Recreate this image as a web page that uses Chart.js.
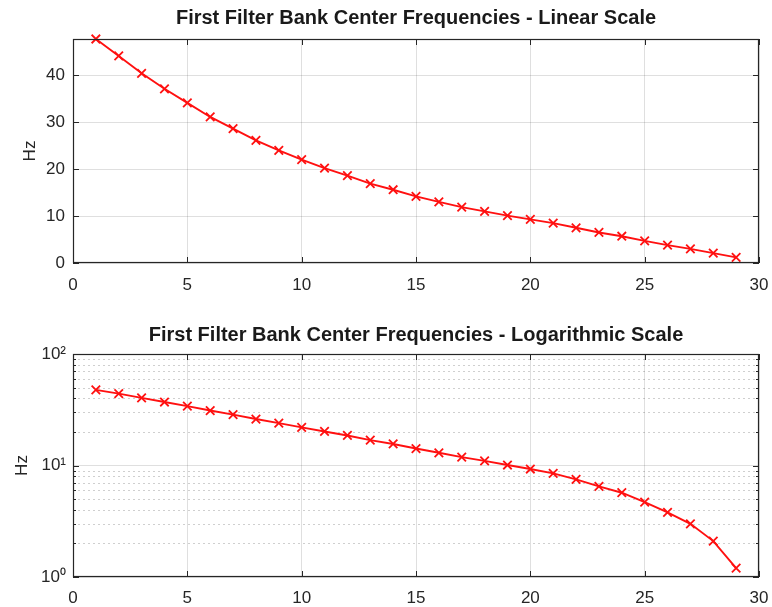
<!DOCTYPE html>
<html>
<head>
<meta charset="utf-8">
<script src="https://cdn.jsdelivr.net/npm/chart.js@4/dist/chart.umd.min.js"></script>
<style>
  html, body { margin: 0; padding: 0; background: #ffffff; }
  #wrap { width: 772px; height: 607px; position: relative; background: #ffffff; }
  canvas { display: block; }
</style>
</head>
<body>
<div id="wrap">
  <canvas id="linChart" width="772" height="300"></canvas>
  <canvas id="logChart" width="772" height="307"></canvas>
</div>
<script>
// Filter index (1..29) and its center frequency in Hz
const filterIndex = [1, 2, 3, 4, 5, 6, 7, 8, 9, 10, 11, 12, 13, 14, 15,
                     16, 17, 18, 19, 20, 21, 22, 23, 24, 25, 26, 27, 28, 29];
const centerFreqHz = [47.7, 44.1, 40.4, 37.1, 34.1, 31.1, 28.6, 26.1, 24.0, 22.0,
                      20.2, 18.6, 16.9, 15.6, 14.2, 13.0, 11.9, 11.0, 10.1, 9.3,
                      8.5, 7.5, 6.5, 5.7, 4.7, 3.8, 3.0, 2.1, 1.2];

// Tick values and labels
const xTickValues = [0, 5, 10, 15, 20, 25, 30];
const linTickValues = [0, 10, 20, 30, 40];
const logMajorValues = [1, 10, 100];
const logMajorLabels = ['10\u2070', '10\u00B9', '10\u00B2'];
const logMinorValues = [2, 3, 4, 5, 6, 7, 8, 9, 20, 30, 40, 50, 60, 70, 80, 90];

const titles = ['First Filter Bank Center Frequencies - Linear Scale',
                'First Filter Bank Center Frequencies - Logarithmic Scale'];
const yAxisTitle = 'Hz';

const INK = '#262626';
const GRID = 'rgba(38,38,38,0.15)';
const FONT = '"Liberation Sans", Arial, Helvetica, sans-serif';

const points = filterIndex.map((x, i) => ({ x: x, y: centerFreqHz[i] }));

// Axes box, inward tick marks and dotted minor grid in the MATLAB style
const boxAxes = {
  id: 'boxAxes',
  beforeDatasetsDraw(chart) {
    const ys = chart.scales.y;
    if (ys.type !== 'logarithmic') return;
    const { left, right } = chart.chartArea;
    const ctx = chart.ctx;
    ctx.save();
    ctx.strokeStyle = 'rgba(38,38,38,0.22)';
    ctx.lineWidth = 1;
    ctx.setLineDash([2, 3]);
    logMinorValues.forEach(v => {
      const py = Math.round(ys.getPixelForValue(v)) + 0.5;
      ctx.beginPath();
      ctx.moveTo(left, py);
      ctx.lineTo(right, py);
      ctx.stroke();
    });
    ctx.restore();
  },
  afterDraw(chart) {
    const { left, right, top, bottom } = chart.chartArea;
    const xs = chart.scales.x, ys = chart.scales.y;
    const ctx = chart.ctx;
    const L = 6;
    ctx.save();
    ctx.strokeStyle = INK;
    ctx.lineWidth = 1;
    ctx.beginPath();
    xTickValues.forEach(v => {
      const px = Math.round(xs.getPixelForValue(v)) + 0.5;
      ctx.moveTo(px, bottom); ctx.lineTo(px, bottom - L);
      ctx.moveTo(px, top); ctx.lineTo(px, top + L);
    });
    const majors = ys.type === 'logarithmic' ? logMajorValues : linTickValues;
    majors.forEach(v => {
      const py = Math.round(ys.getPixelForValue(v)) + 0.5;
      ctx.moveTo(left, py); ctx.lineTo(left + L, py);
      ctx.moveTo(right, py); ctx.lineTo(right - L, py);
    });
    if (ys.type === 'logarithmic') {
      logMinorValues.forEach(v => {
        const py = Math.round(ys.getPixelForValue(v)) + 0.5;
        ctx.moveTo(left, py); ctx.lineTo(left + 3, py);
        ctx.moveTo(right, py); ctx.lineTo(right - 3, py);
      });
    }
    ctx.stroke();
    ctx.lineWidth = 1.2;
    ctx.strokeRect(Math.round(left) + 0.5, Math.round(top) + 0.5,
                   Math.round(right - left) - 1, Math.round(bottom - top) - 1);
    ctx.restore();
  }
};

function dataset() {
  return {
    data: points,
    borderColor: '#ff1010',
    backgroundColor: '#ff1010',
    borderWidth: 1.9,
    pointStyle: 'crossRot',
    pointRadius: 6,
    pointBorderWidth: 1.8,
    pointBorderColor: '#ff1010',
    tension: 0,
    clip: false
  };
}

function xScale(height, pad) {
  return {
    type: 'linear',
    min: 0,
    max: 30,
    afterBuildTicks: s => { s.ticks = xTickValues.map(v => ({ value: v })); },
    afterFit: s => { s.height = height; s.paddingLeft = 0; s.paddingRight = 0; },
    grid: { color: GRID, lineWidth: 1, drawTicks: false },
    border: { display: false },
    ticks: {
      padding: pad,
      color: INK,
      font: { family: FONT, size: 17 },
      maxRotation: 0,
      autoSkip: false,
      callback: v => String(v)
    }
  };
}

function titleOpts(text, padTop, padBottom) {
  return {
    display: true,
    fullSize: false,
    text: text,
    color: '#1a1a1a',
    font: { family: FONT, size: 20, weight: 'bold', lineHeight: 1.0 },
    padding: { top: padTop, bottom: padBottom }
  };
}

new Chart(document.getElementById('linChart'), {
  type: 'line',
  data: { datasets: [dataset()] },
  plugins: [boxAxes],
  options: {
    responsive: false,
    animation: false,
    layout: { padding: { left: 0, right: 13, top: 0, bottom: 0 } },
    plugins: {
      legend: { display: false },
      tooltip: { enabled: false },
      title: titleOpts(titles[0], 8, 11)
    },
    scales: {
      x: xScale(37, 12),
      y: {
        type: 'linear',
        min: 0,
        max: Math.max(...centerFreqHz),
        afterBuildTicks: s => { s.ticks = linTickValues.map(v => ({ value: v })); },
        afterFit: s => { s.width = 73; },
        grid: { color: GRID, lineWidth: 1, drawTicks: false },
        border: { display: false },
        title: {
          display: true,
          text: yAxisTitle,
          color: INK,
          font: { family: FONT, size: 17 },
          padding: { top: 20, bottom: 0 }
        },
        ticks: {
          padding: 8,
          color: INK,
          font: { family: FONT, size: 17 },
          autoSkip: false,
          callback: v => String(v)
        }
      }
    }
  }
});

new Chart(document.getElementById('logChart'), {
  type: 'line',
  data: { datasets: [dataset()] },
  plugins: [boxAxes],
  options: {
    responsive: false,
    animation: false,
    layout: { padding: { left: 0, right: 13, top: 0, bottom: 0 } },
    plugins: {
      legend: { display: false },
      tooltip: { enabled: false },
      title: titleOpts(titles[1], 25, 9)
    },
    scales: {
      x: xScale(30, 11),
      y: {
        type: 'logarithmic',
        min: 1,
        max: 100,
        afterBuildTicks: s => { s.ticks = logMajorValues.map(v => ({ value: v })); },
        afterFit: s => { s.width = 73; },
        grid: { color: GRID, lineWidth: 1, drawTicks: false },
        border: { display: false },
        title: {
          display: true,
          text: yAxisTitle,
          color: INK,
          font: { family: FONT, size: 17 },
          padding: { top: 12, bottom: 0 }
        },
        ticks: {
          padding: 7,
          color: INK,
          font: { family: FONT, size: 17 },
          autoSkip: false,
          callback: v => {
            const i = logMajorValues.indexOf(v);
            return i >= 0 ? logMajorLabels[i] : '';
          }
        }
      }
    }
  }
});
</script>
</body>
</html>
